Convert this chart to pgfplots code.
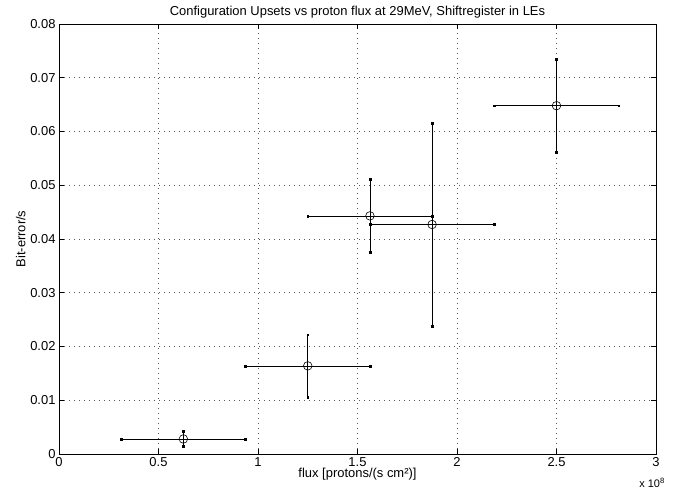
\documentclass[border=0pt]{standalone}
\usepackage{pgfplots}
\pgfplotsset{compat=1.18}
\usepackage{fontspec}
\setmainfont{Liberation Sans}

\pgfplotstableread{
x      y       ex      ey
0.625  0.0028  0.3125  0.0014
1.25   0.0164  0.3125  0.0058
1.5625 0.0443  0.3125  0.0068
1.875  0.0427  0.3125  0.0189
2.5    0.0648  0.3125  0.0086
}\upsets

\begin{document}
\begin{tikzpicture}
\begin{axis}[
  scale only axis,
  width=597bp, height=430bp,
  xmin=0, xmax=3, ymin=0, ymax=0.08,
  xtick={0,0.5,1,1.5,2,2.5,3},
  ytick={0,0.01,0.02,0.03,0.04,0.05,0.06,0.07,0.08},
  scaled y ticks=false,
  y tick label style={/pgf/number format/.cd, fixed, precision=2},
  /pgf/number format/assume math mode=true,
  tick label style={font=\fontsize{13}{15}\selectfont},
  label style={font=\fontsize{13}{15}\selectfont},
  title style={font=\fontsize{13}{15}\selectfont, yshift=-4bp},
  title={Configuration Upsets vs proton flux at 29MeV, Shiftregister in LEs},
  xlabel={flux [protons/(s cm²)]},
  ylabel={Bit-error/s},
  xlabel style={yshift=5bp},
  ylabel style={yshift=-2bp},
  grid=major,
  grid style={black!65, line width=0.5pt, dash pattern=on 0.8bp off 4.2bp},
  tick align=inside,
  major tick length=5bp,
  tick style={black, line width=0.6pt},
  axis line style={line width=0.6pt},
]
\addplot[black, only marks, mark=o, mark size=4.3pt, mark options={line width=0.6pt},
  error bars/.cd,
  x dir=both, x explicit, y dir=both, y explicit,
  error bar style={line width=0.6pt},
  error mark=square*, error mark options={mark size=0.9pt}]
  table[x=x, y=y, x error=ex, y error=ey]{\upsets};
\end{axis}
\node[anchor=north east, font=\fontsize{11}{12}\selectfont, inner sep=0pt]
  at ([shift={(9bp,-24bp)}]current axis.south east) {x 10\textsuperscript{8}};
\pgfresetboundingbox
\path[use as bounding box] ([shift={(-59bp,-37bp)}]current axis.south west)
  rectangle ([shift={(17bp,24bp)}]current axis.north east);
\end{tikzpicture}
\end{document}
